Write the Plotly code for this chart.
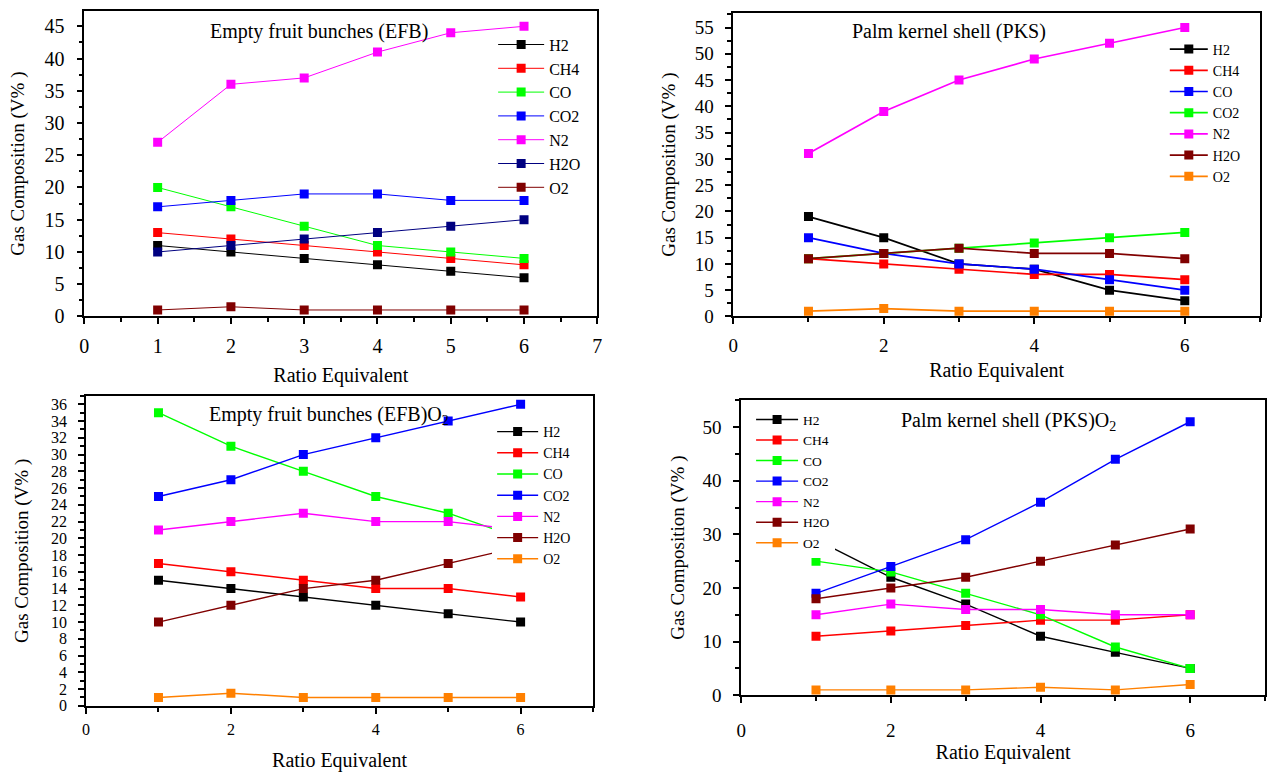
import plotly.graph_objects as go

W, H = 1271, 772
FONT = "Liberation Serif, Times New Roman, serif"

x_vals = [1, 2, 3, 4, 5, 6]
gases = ["H2", "CH4", "CO", "CO2", "N2", "H2O", "O2"]

# Panel 1: Empty fruit bunches (EFB)
efb_H2 = [11, 10, 9, 8, 7, 6]
efb_CH4 = [13, 12, 11, 10, 9, 8]
efb_CO = [20, 17, 14, 11, 10, 9]
efb_CO2 = [17, 18, 19, 19, 18, 18]
efb_N2 = [27, 36, 37, 41, 44, 45]
efb_H2O = [10, 11, 12, 13, 14, 15]
efb_O2 = [1, 1.5, 1, 1, 1, 1]

# Panel 2: Palm kernel shell (PKS)
pks_H2 = [19, 15, 10, 9, 5, 3]
pks_CH4 = [11, 10, 9, 8, 8, 7]
pks_CO = [15, 12, 10, 9, 7, 5]
pks_CO2 = [11, 12, 13, 14, 15, 16]
pks_N2 = [31, 39, 45, 49, 52, 55]
pks_H2O = [11, 12, 13, 12, 12, 11]
pks_O2 = [1, 1.5, 1, 1, 1, 1]

# Panel 3: Empty fruit bunches (EFB)O2
efbo_H2 = [15, 14, 13, 12, 11, 10]
efbo_CH4 = [17, 16, 15, 14, 14, 13]
efbo_CO = [35, 31, 28, 25, 23, 20]
efbo_CO2 = [25, 27, 30, 32, 34, 36]
efbo_N2 = [21, 22, 23, 22, 22, 21]
efbo_H2O = [10, 12, 14, 15, 17, 19]
efbo_O2 = [1, 1.5, 1, 1, 1, 1]

# Panel 4: Palm kernel shell (PKS)O2
pkso_H2 = [29, 22, 17, 11, 8, 5]
pkso_CH4 = [11, 12, 13, 14, 14, 15]
pkso_CO = [25, 23, 19, 15, 9, 5]
pkso_CO2 = [19, 24, 29, 36, 44, 51]
pkso_N2 = [15, 17, 16, 16, 15, 15]
pkso_H2O = [18, 20, 22, 25, 28, 31]
pkso_O2 = [1, 1, 1, 1.5, 1, 2]

BLACK, RED, GREEN, BLUE = "#000000", "#FF0000", "#00FF00", "#0000FF"
MAGENTA, NAVY, MAROON, ORANGE = "#FF00FF", "#000080", "#800000", "#FF8000"

panels = [
    dict(series=[efb_H2, efb_CH4, efb_CO, efb_CO2, efb_N2, efb_H2O, efb_O2],
         colors=[BLACK, RED, GREEN, BLUE, MAGENTA, NAVY, MAROON], lw=1.0),
    dict(series=[pks_H2, pks_CH4, pks_CO, pks_CO2, pks_N2, pks_H2O, pks_O2],
         colors=[BLACK, RED, BLUE, GREEN, MAGENTA, MAROON, ORANGE], lw=1.7),
    dict(series=[efbo_H2, efbo_CH4, efbo_CO, efbo_CO2, efbo_N2, efbo_H2O, efbo_O2],
         colors=[BLACK, RED, GREEN, BLUE, MAGENTA, MAROON, ORANGE], lw=1.4),
    dict(series=[pkso_H2, pkso_CH4, pkso_CO, pkso_CO2, pkso_N2, pkso_H2O, pkso_O2],
         colors=[BLACK, RED, GREEN, BLUE, MAGENTA, MAROON, ORANGE], lw=1.4),
]


def px_x(p):
    return p / W


def px_y(p):
    return 1 - p / H


fig = go.Figure()
legend_names = ["legend", "legend2", "legend3", "legend4"]
for i, pnl in enumerate(panels):
    ax = "" if i == 0 else str(i + 1)
    for name, ys, col in zip(gases, pnl["series"], pnl["colors"]):
        fig.add_trace(go.Scatter(
            x=x_vals, y=ys, name=name, mode="lines+markers",
            line=dict(color=col, width=pnl["lw"]),
            marker=dict(symbol="square", size=9, color=col),
            xaxis="x" + ax, yaxis="y" + ax, legend=legend_names[i],
        ))

# (x px domain, y px domain, xrange, yrange, x dtick, x minor, y dtick, y minor,
#  tick font, x ticklabel standoff, x title standoff, y title standoff)
doms = [
    ((80, 597), (321, 11), [0, 7], [0, 47.4], 1, 0.5, 5, 2.5, 20, 5, 12, 15),
    ((734, 1265), (321, 13), [0, 7], [0, 57.8], 2, 1, 5, 2.5, 19, 5, 8, 14),
    ((81.7, 592.7), (716, 401.7), [0, 7], [0, 37], 2, 1, 2, 1, 16, 2, 17, 17),
    ((742, 1270), (705.3, 405.7), [0, 7], [0, 55.07], 2, 1, 10, 5, 19, 11, 2, 13),
]

layout = {}
for i, (xd, yd, xr, yr, xdt, xmdt, ydt, ymdt, tfs, xtls, xts, yts) in enumerate(doms):
    ax = "" if i == 0 else str(i + 1)
    common = dict(showline=True, linecolor="black", linewidth=1.5, mirror=True,
                  ticks="outside", ticklen=6, tickwidth=1.5, tickcolor="black",
                  showgrid=False, zeroline=False,
                  tickfont=dict(family=FONT, size=tfs, color="black"))
    layout["xaxis" + ax] = dict(
        common, domain=[px_x(xd[0]), px_x(xd[1])], range=xr, dtick=xdt, tick0=0,
        anchor="y" + ax, ticklabelstandoff=xtls,
        minor=dict(dtick=xmdt, tick0=0, ticks="outside", ticklen=4, tickwidth=1.5, tickcolor="black"),
        title=dict(text="Ratio Equivalent", font=dict(family=FONT, size=20, color="black"), standoff=xts),
    )
    layout["yaxis" + ax] = dict(
        common, domain=[px_y(yd[0]), px_y(yd[1])], range=yr, dtick=ydt, tick0=0,
        anchor="x" + ax, ticklabelstandoff=8,
        minor=dict(dtick=ymdt, tick0=0, ticks="outside", ticklen=4, tickwidth=1.5, tickcolor="black"),
        title=dict(text="Gas Composition (V% )", font=dict(family=FONT, size=19, color="black"), standoff=yts),
    )

# (left px, top px, font size, item width, background)
leg_specs = [
    (492, 28, 16, 46, "rgba(255,255,255,0)"),
    (1169, 34, 14, 38, "rgba(255,255,255,0)"),
    (491, 422, 14, 41, "white"),
    (752, 410, 13.5, 42, "white"),
]
for i, (lx, ly, fs, iw, bg) in enumerate(leg_specs):
    layout[legend_names[i]] = dict(
        x=px_x(lx), y=px_y(ly), xanchor="left", yanchor="top",
        xref="paper", yref="paper",
        bgcolor=bg, borderwidth=0, itemwidth=max(30, iw),
        font=dict(family=FONT, size=fs, color="black"),
        tracegroupgap=0,
    )

titles = [
    ("Empty fruit bunches (EFB)", 316, 32),
    ("Palm kernel shell (PKS)", 951, 32),
    ("Empty fruit bunches (EFB)O<sub>2</sub>", 327, 421),
    ("Palm kernel shell (PKS)O<sub>2</sub>", 1011, 428),
]
annotations = []
for t, cx, cy in titles:
    annotations.append(dict(
        text=t, x=px_x(cx), y=px_y(cy), xref="paper", yref="paper",
        xanchor="center", yanchor="middle", showarrow=False,
        font=dict(family=FONT, size=20, color="black"),
    ))

fig.update_layout(
    width=W, height=H, margin=dict(l=0, r=0, t=0, b=0),
    paper_bgcolor="white", plot_bgcolor="white",
    showlegend=True, annotations=annotations,
    font=dict(family=FONT, color="black"),
    **layout,
)

fig.write_html("out.html")
